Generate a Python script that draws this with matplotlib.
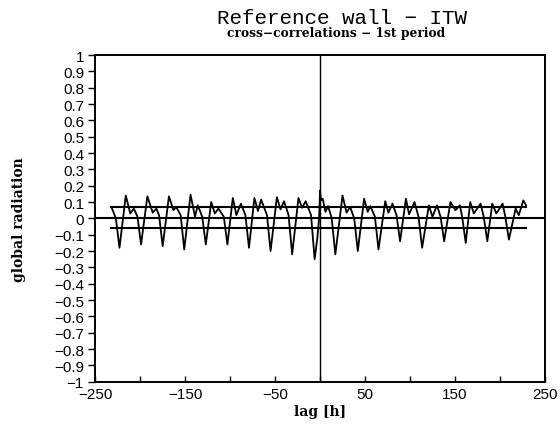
import matplotlib
matplotlib.use("Agg")
import matplotlib.pyplot as plt
from matplotlib.ticker import FixedLocator, FuncFormatter

# lag [h] and cross-correlation (key points of each daily cycle)
lags = [-232, -227, -223, -216, -211, -207,
        -203, -199, -192, -186, -182,
        -179, -175, -168, -163, -160,
        -155, -151, -144, -139, -136,
        -131, -127, -121, -117, -113,
        -107, -103, -97, -93, -88,
        -83, -79, -73, -69, -65.5,
        -59, -55, -48, -44, -40,
        -35, -31, -24, -20, -16,
        -10, -6, -3, -1, 0, 1, 3, 6, 9,
        13, 17, 25, 29.5, 33.5,
        38, 42, 49, 53, 56,
        61, 65, 72.5, 76, 80.5,
        85, 89, 95.5, 99, 105,
        109.5, 113.5, 121, 125, 130,
        134, 138, 145, 150.5, 155.5,
        158, 162, 167, 171, 178.5,
        182, 186, 191.5, 196, 203,
        206, 210, 217.5, 221, 226, 229]
corr = [0.07, 0.0, -0.18, 0.14, 0.03, 0.06,
        0.01, -0.16, 0.135, 0.035, 0.06,
        0.02, -0.17, 0.135, 0.05, 0.07,
        0.02, -0.19, 0.145, 0.01, 0.08,
        0.01, -0.16, 0.10, 0.03, 0.06,
        0.01, -0.16, 0.125, 0.02, 0.09,
        0.02, -0.18, 0.125, 0.045, 0.115,
        0.02, -0.20, 0.13, 0.055, 0.105,
        0.02, -0.22, 0.125, 0.065, 0.105,
        0.02, -0.25, -0.12, 0.0, 0.17, 0.11, 0.12, 0.04, 0.075,
        0.0, -0.22, 0.14, 0.035, 0.07,
        0.0, -0.20, 0.12, 0.04, 0.075,
        0.01, -0.19, 0.105, 0.035, 0.09,
        0.02, -0.14, 0.12, 0.025, 0.10,
        0.01, -0.18, 0.08, 0.01, 0.08,
        0.01, -0.14, 0.10, 0.05, 0.08,
        0.01, -0.15, 0.10, 0.03, 0.09,
        0.01, -0.14, 0.09, 0.03, 0.09,
        0.01, -0.13, 0.06, 0.02, 0.11, 0.08]

# confidence limits
conf_lags = [-232, 229]
conf_upper = 0.07
conf_lower = -0.06

xtick_vals = list(range(-250, 251, 50))
xtick_labeled = [-250, -150, -50, 50, 150, 250]
ytick_vals = [round(-1 + 0.1 * i, 1) for i in range(21)]


def fmt_x(v, pos):
    if int(round(v)) not in xtick_labeled:
        return ""
    return ("\u2212%d" % abs(v)) if v < 0 else "%d" % v


def fmt_y(v, pos):
    if abs(v) < 1e-9:
        return "0"
    if abs(abs(v) - 1) < 1e-9:
        return "1" if v > 0 else "\u22121"
    return ("%.1f" % v).replace("-", "\u2212")


fig = plt.figure(figsize=(5.6, 4.31), dpi=100)
ax = fig.add_axes([0.170, 0.112, 0.803, 0.758])

ax.axhline(0, color="black", lw=1.5, zorder=2)
ax.axvline(0, color="black", lw=1.0, zorder=2)
ax.plot(conf_lags, [conf_upper, conf_upper], color="black", lw=1.5)
ax.plot(conf_lags, [conf_lower, conf_lower], color="black", lw=1.5)
ax.plot(lags, corr, color="black", lw=1.3)

ax.set_xlim(-250, 250)
ax.set_ylim(-1, 1)
ax.xaxis.set_major_locator(FixedLocator(xtick_vals))
ax.xaxis.set_major_formatter(FuncFormatter(fmt_x))
ax.yaxis.set_major_locator(FixedLocator(ytick_vals))
ax.yaxis.set_major_formatter(FuncFormatter(fmt_y))
ax.tick_params(axis="x", direction="in", length=4, width=1, pad=4)
ax.tick_params(axis="y", direction="out", length=5, width=1, pad=3)
for lab in ax.get_xticklabels() + ax.get_yticklabels():
    lab.set_family("Liberation Sans")
    lab.set_fontsize(11)
for s in ax.spines.values():
    s.set_linewidth(1.4)

ax.set_xlabel("lag [h]", family="DejaVu Serif", fontweight="bold", fontsize=10, labelpad=2)
ax.set_ylabel("global radiation", family="DejaVu Serif", fontweight="bold", fontsize=10, labelpad=20)

fig.text(0.61, 0.945, "Reference wall \u2212 ITW", family="Liberation Mono", fontsize=15,
         ha="center", va="baseline")
fig.text(0.60, 0.915, "cross\u2212correlations \u2212 1st period", family="DejaVu Serif",
         fontweight="bold", fontsize=8.8, ha="center", va="baseline")

fig.savefig("out.png", dpi=100)
